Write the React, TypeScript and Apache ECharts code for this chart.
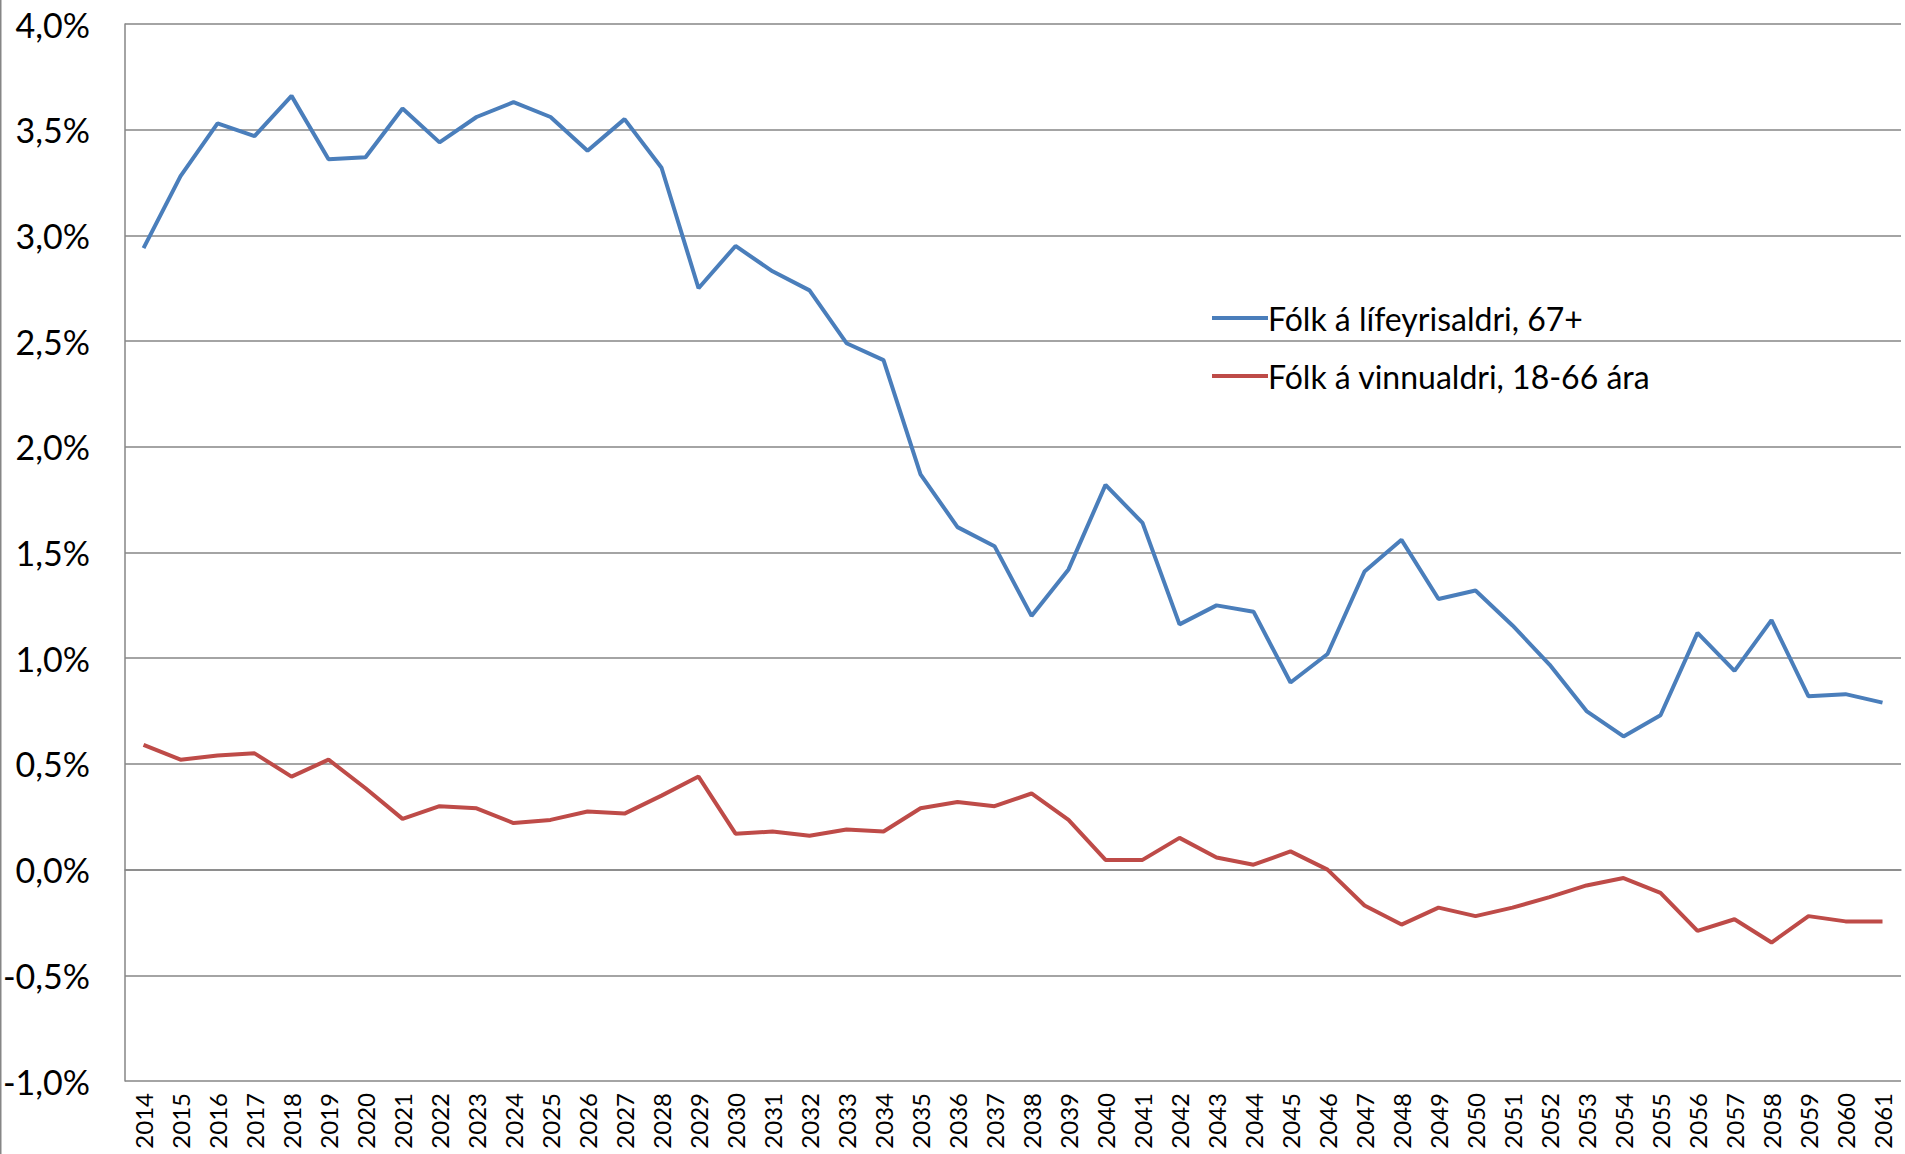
import React, { useEffect, useRef } from "react";
import * as echarts from "echarts";

const years: string[] = [
  "2014","2015","2016","2017","2018","2019","2020","2021","2022","2023","2024","2025",
  "2026","2027","2028","2029","2030","2031","2032","2033","2034","2035","2036","2037",
  "2038","2039","2040","2041","2042","2043","2044","2045","2046","2047","2048","2049",
  "2050","2051","2052","2053","2054","2055","2056","2057","2058","2059","2060","2061",
];

const pensionAge: number[] = [
  2.94, 3.28, 3.53, 3.47, 3.66, 3.36, 3.37, 3.6, 3.44, 3.56, 3.63, 3.56,
  3.4, 3.55, 3.32, 2.75, 2.95, 2.83, 2.74, 2.49, 2.41, 1.87, 1.62, 1.53,
  1.2, 1.42, 1.82, 1.64, 1.16, 1.25, 1.22, 0.885, 1.02, 1.41, 1.56, 1.28,
  1.32, 1.155, 0.97, 0.75, 0.63, 0.73, 1.12, 0.94, 1.18, 0.82, 0.83, 0.79,
];

const workingAge: number[] = [
  0.59, 0.52, 0.54, 0.55, 0.44, 0.52, 0.385, 0.24, 0.3, 0.29, 0.22, 0.235,
  0.275, 0.265, 0.35, 0.44, 0.17, 0.18, 0.16, 0.19, 0.18, 0.29, 0.32, 0.3,
  0.36, 0.235, 0.046, 0.046, 0.15, 0.057, 0.023, 0.086, 0.0, -0.17, -0.26, -0.18,
  -0.22, -0.18, -0.13, -0.075, -0.04, -0.11, -0.29, -0.235, -0.345, -0.22, -0.245, -0.245,
];

const seriesNames: string[] = ["Fólk á lífeyrisaldri, 67+", "Fólk á vinnualdri, 18-66 ára"];

const FONT = "Lato, 'Open Sans', sans-serif";

export default function App() {
  const ref = useRef<HTMLDivElement>(null);

  useEffect(() => {
    document.body.style.margin = "0";
    if (!ref.current) return;
    const chart = echarts.init(ref.current, undefined, { renderer: "svg" });
    chart.setOption({
      animation: false,
      backgroundColor: "#ffffff",
      textStyle: { fontFamily: FONT },
      grid: { left: 123, right: 4, top: 24, bottom: 73, containLabel: false },
      legend: {
        orient: "vertical",
        left: 1207,
        top: 297,
        itemWidth: 56,
        itemHeight: 4,
        itemGap: 26,
        icon: "rect",
        textStyle: { fontSize: 32, color: "#000", fontFamily: FONT, padding: [0, 0, 0, -5] },
        data: seriesNames,
      },
      xAxis: {
        type: "category",
        data: years,
        boundaryGap: true,
        axisLine: { show: true, lineStyle: { color: "#868686", width: 1.5 } },
        axisTick: { show: false },
        axisLabel: {
          rotate: 90,
          interval: 0,
          fontSize: 24,
          color: "#000",
          margin: 12,
          fontFamily: FONT,
        },
      },
      yAxis: {
        type: "value",
        min: -1,
        max: 4,
        interval: 0.5,
        axisLine: { show: true, lineStyle: { color: "#868686", width: 1.5 } },
        axisTick: { show: false },
        splitLine: { show: true, lineStyle: { color: "#868686", width: 1.5 } },
        axisLabel: {
          fontSize: 34,
          color: "#000",
          margin: 35,
          fontFamily: FONT,
          formatter: (v: number) => v.toFixed(1).replace(".", ",") + "%",
        },
      },
      series: [
        {
          name: seriesNames[0],
          type: "line",
          data: pensionAge,
          symbol: "none",
          lineStyle: { color: "#4A7EBB", width: 4 },
          itemStyle: { color: "#4A7EBB" },
        },
        {
          name: seriesNames[1],
          type: "line",
          data: workingAge,
          symbol: "none",
          lineStyle: { color: "#BE4B48", width: 4 },
          itemStyle: { color: "#BE4B48" },
        },
      ],
      graphic: [
        {
          type: "rect",
          left: 0,
          top: 0,
          shape: { x: 0, y: 0, width: 1.5, height: 1154 },
          style: { fill: "#868686" },
        },
      ],
    });
    return () => chart.dispose();
  }, []);

  return <div ref={ref} style={{ width: 1905, height: 1154 }} />;
}
